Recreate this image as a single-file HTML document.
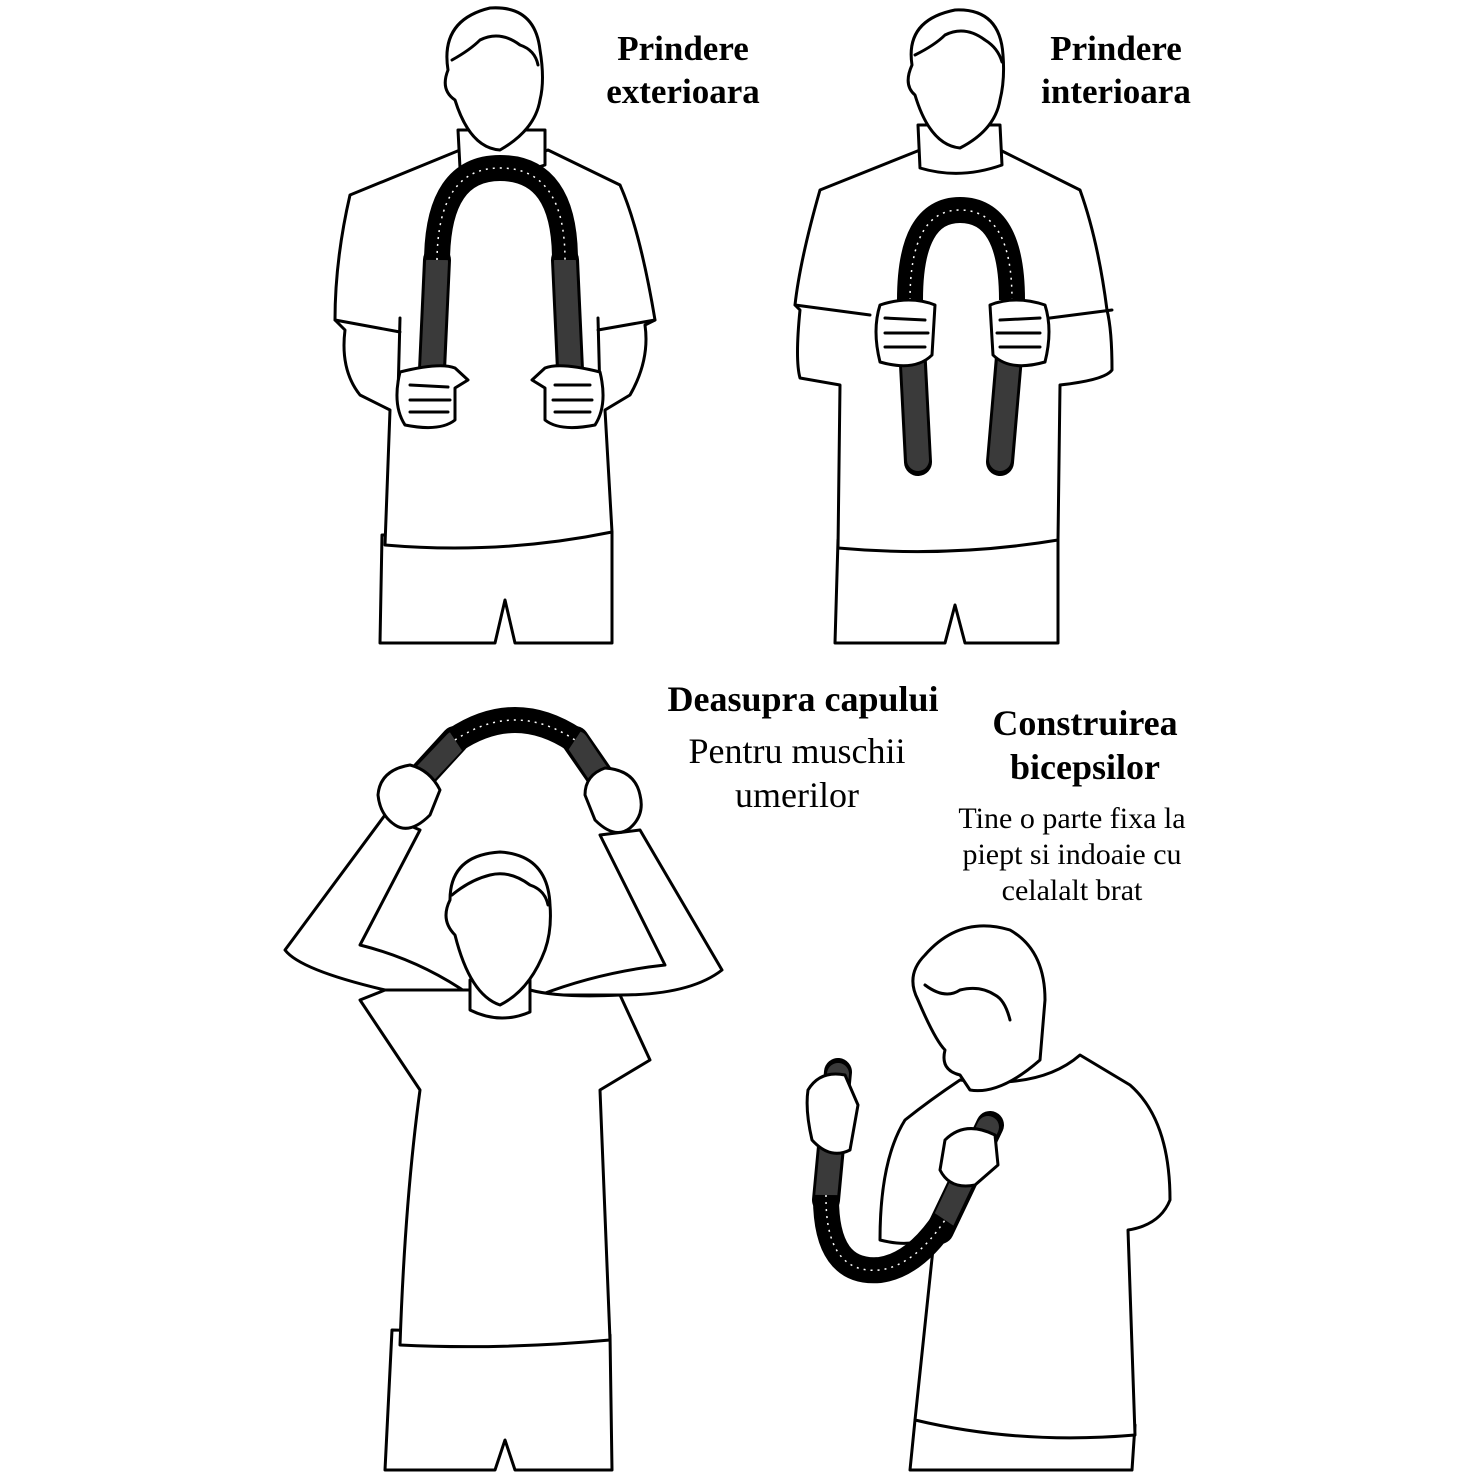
<!DOCTYPE html>
<html><head><meta charset="utf-8"><style>
html,body{margin:0;padding:0;background:#fff}
svg{display:block}
.l{fill:#fff;stroke:#000;stroke-width:3;stroke-linejoin:round;stroke-linecap:round}
.n{fill:none;stroke:#000;stroke-width:3;stroke-linecap:round}
.sp{fill:none;stroke:#000;stroke-width:26;stroke-linecap:butt}
.rib{fill:none;stroke:#fff;stroke-width:1.5;stroke-dasharray:2 5}
.gr{fill:none;stroke:#000;stroke-width:28;stroke-linecap:round}
.gi{fill:none;stroke:#3a3a3a;stroke-width:22;stroke-linecap:round}
text{font-family:"Liberation Serif",serif;fill:#000;text-anchor:middle}
.b{font-weight:bold;font-size:35px}
.b2{font-weight:bold;font-size:36px}
.r{font-size:36px}
.s{font-size:30px}
</style></head><body>
<svg width="1476" height="1476" viewBox="0 0 1476 1476" xmlns="http://www.w3.org/2000/svg">
<!-- Figure 1 -->
<path class="l" d="M380 643 L382 535 L612 532 L612 643 L515 643 L505 600 L495 643 Z"/>
<path class="l" d="M460 150 L350 195 Q335 260 335 320 L345 330 Q340 370 360 395 L390 410 L385 545 Q500 555 612 532 L605 410 L630 395 Q650 360 645 325 L655 320 Q640 230 620 185 L548 150 Q500 170 460 150 Z"/>
<path class="n" d="M335 320 L400 332 M655 320 L598 330 M400 318 L398 395 M598 318 L600 395"/>
<path class="l" d="M458 130 L460 168 Q500 180 545 165 L545 130 Z"/>
<path class="l" d="M455 100 Q440 90 448 70 Q440 20 490 8 Q535 5 540 50 Q545 80 540 100 Q535 130 500 150 Q470 148 455 100 Z"/>
<path class="n" d="M452 60 Q470 50 480 40 Q500 30 520 45 Q535 50 538 65"/>
<path class="gr" d="M437 260 L432 370 M565 260 L570 370"/>
<path class="gi" d="M437 262 L432 368 M565 262 L570 368"/>
<path class="sp" d="M437 260 Q438 168 500 168 Q565 168 565 260"/>
<path class="rib" d="M437 260 Q438 168 500 168 Q565 168 565 260"/>
<path class="l" d="M400 372 Q440 362 455 368 L468 380 L455 388 L455 420 Q440 432 405 425 Q392 405 400 372 Z"/>
<path class="n" d="M410 385 L448 387 M410 400 L450 400 M410 412 L448 412"/>
<path class="l" d="M600 372 Q560 362 545 368 L532 380 L545 388 L545 420 Q560 432 595 425 Q608 405 600 372 Z"/>
<path class="n" d="M555 385 L590 385 M553 400 L592 400 M555 412 L590 412"/>
<!-- Figure 2 -->
<path class="l" d="M835 643 L838 540 L1058 540 L1058 643 L965 643 L955 605 L945 643 Z"/>
<path class="l" d="M920 150 L820 190 Q800 260 795 305 L800 310 Q795 360 800 378 L840 385 L838 548 Q950 558 1058 540 L1060 385 Q1105 380 1112 370 Q1112 330 1107 310 Q1098 240 1080 190 L1000 150 Q960 170 920 150 Z"/>
<path class="n" d="M795 305 L870 315 M1112 310 L1050 318"/>
<path class="l" d="M918 125 L920 168 Q960 180 1002 165 L1000 125 Z"/>
<path class="l" d="M915 95 Q903 85 912 65 Q905 20 955 10 Q1000 8 1003 55 Q1005 80 1000 100 Q995 130 960 148 Q930 145 915 95 Z"/>
<path class="n" d="M915 55 Q935 45 945 35 Q965 25 985 40 Q998 48 1002 62"/>
<path class="gr" d="M912 345 L918 462 M1010 345 L1000 462"/>
<path class="gi" d="M912 347 L918 460 M1010 347 L1000 460"/>
<path class="sp" d="M910 300 Q910 210 960 210 Q1012 210 1012 300"/>
<path class="rib" d="M910 300 Q910 210 960 210 Q1012 210 1012 300"/>
<path class="l" d="M880 305 Q910 295 935 305 L932 355 Q915 372 880 362 Q872 330 880 305 Z"/>
<path class="n" d="M885 318 L925 320 M885 333 L928 333 M885 347 L925 347"/>
<path class="l" d="M1045 305 Q1015 295 990 305 L993 355 Q1010 372 1045 362 Q1053 330 1045 305 Z"/>
<path class="n" d="M1000 320 L1040 318 M997 333 L1040 333 M1000 347 L1040 347"/>
<!-- Figure 3 -->
<path class="l" d="M385 1470 L392 1330 L610 1335 L612 1470 L515 1470 L505 1440 L495 1470 Z"/>
<path class="l" d="M385 815 L285 950 Q300 970 385 990 L470 995 Q420 960 360 945 L420 830 Z"/>
<path class="l" d="M640 830 L722 970 Q690 995 620 995 L540 995 Q600 972 665 965 L600 835 Z"/>
<path class="l" d="M385 990 L360 1000 L420 1090 Q405 1200 400 1345 Q500 1350 610 1340 L600 1090 L650 1060 L620 995 Q560 998 530 990 Q500 1010 470 990 Z"/>
<path class="l" d="M470 980 L470 1010 Q500 1025 530 1012 L530 980 Z"/>
<path class="l" d="M455 935 Q440 920 450 900 Q450 855 500 852 Q548 855 550 905 Q552 930 545 950 Q530 990 500 1005 Q470 995 455 935 Z"/>
<path class="n" d="M452 895 Q470 880 490 875 Q510 870 530 885 Q545 890 548 905"/>
<path class="gr" d="M400 800 L455 740 M622 808 L575 740"/>
<path class="gi" d="M402 798 L455 742 M620 806 L577 742"/>
<path class="sp" d="M455 740 Q515 700 575 740"/>
<path class="rib" d="M455 740 Q515 700 575 740"/>
<path class="l" d="M378 795 Q380 770 410 765 Q430 770 440 790 L430 815 Q410 835 395 825 Q380 815 378 795 Z"/>
<path class="l" d="M640 795 Q635 770 605 768 Q585 775 585 795 L595 820 Q615 840 630 828 Q645 815 640 795 Z"/>
<!-- Figure 4 -->
<path class="l" d="M910 1470 L915 1420 L1135 1425 L1132 1470 Z"/>
<path class="l" d="M960 1080 Q930 1100 905 1120 Q880 1160 880 1240 Q920 1250 935 1230 L915 1420 Q1020 1445 1135 1435 L1128 1230 Q1160 1225 1170 1200 Q1170 1120 1130 1085 L1080 1055 Q1040 1090 960 1080 Z"/>
<path class="l" d="M918 1000 Q905 975 925 955 Q960 915 1010 930 Q1045 950 1045 1000 L1040 1060 Q1000 1095 970 1090 L960 1075 Q940 1070 945 1050 Q935 1040 918 1000 Z"/>
<path class="n" d="M925 985 Q945 1000 960 990 Q980 985 995 995 Q1005 1000 1010 1020"/>
<path class="gr" d="M838 1072 L826 1200 M990 1125 L940 1230"/>
<path class="gi" d="M838 1074 L826 1198 M988 1127 L940 1228"/>
<path class="sp" d="M826 1195 Q825 1275 880 1270 Q915 1265 945 1220"/>
<path class="rib" d="M826 1195 Q825 1275 880 1270 Q915 1265 945 1220"/>
<path class="l" d="M808 1090 Q820 1070 845 1075 L858 1105 L850 1150 Q830 1160 812 1140 Q805 1110 808 1090 Z"/>
<path class="l" d="M945 1140 Q965 1120 995 1135 L998 1165 L975 1185 Q950 1190 940 1170 Z"/>
<!-- Text -->
<text class="b" x="683" y="60">Prindere</text>
<text class="b" x="683" y="103">exterioara</text>
<text class="b" x="1116" y="60">Prindere</text>
<text class="b" x="1116" y="103">interioara</text>
<text class="b2" x="803" y="711">Deasupra capului</text>
<text class="r" x="797" y="763">Pentru muschii</text>
<text class="r" x="797" y="807">umerilor</text>
<text class="b2" x="1085" y="735">Construirea</text>
<text class="b2" x="1085" y="779">bicepsilor</text>
<text class="s" x="1072" y="828">Tine o parte fixa la</text>
<text class="s" x="1072" y="864">piept si indoaie cu</text>
<text class="s" x="1072" y="900">celalalt brat</text>
</svg>
</body></html>
